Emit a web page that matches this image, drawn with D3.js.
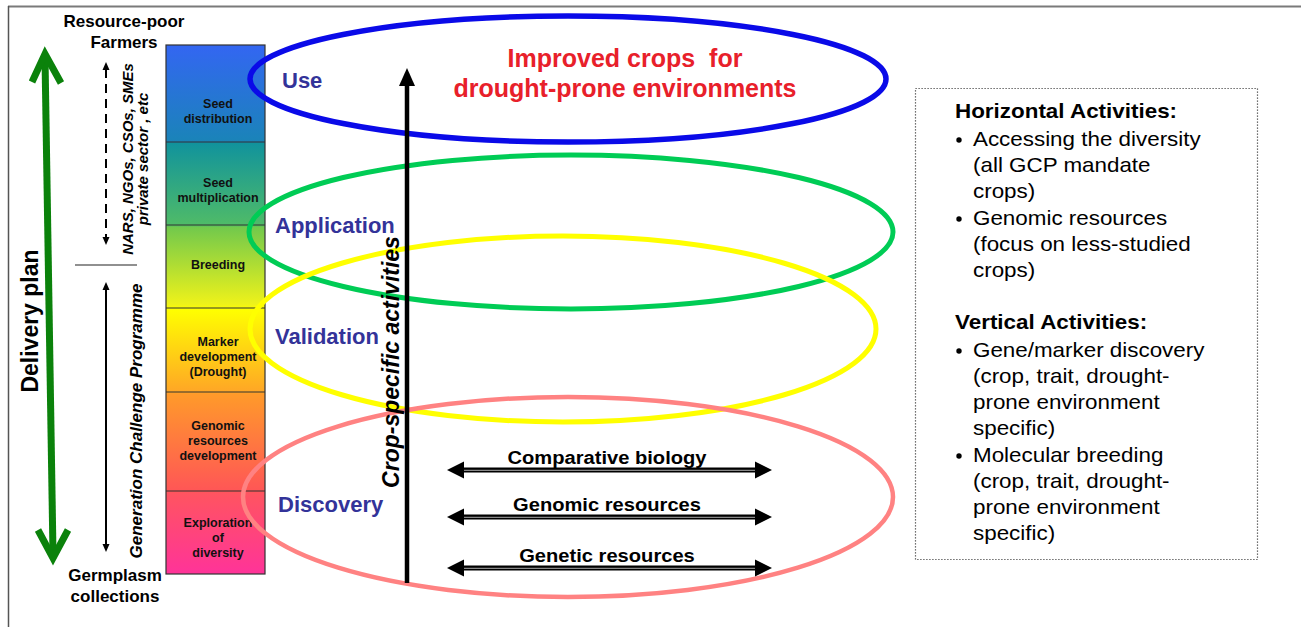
<!DOCTYPE html>
<html><head><meta charset="utf-8">
<script src="https://cdn.jsdelivr.net/npm/d3@7"></script>
<style>body{margin:0;background:#fff}svg{display:block;font-family:"Liberation Sans",Arial,Helvetica,sans-serif}text{white-space:pre}</style>
</head><body><svg id="c" width="1301" height="627"></svg>
<script>
// ---------- content ----------
const stageNames = [["Seed","distribution"],["Seed","multiplication"],["Breeding"],
  ["Marker","development","(Drought)"],["Genomic","resources","development"],["Exploration","of","diversity"]];
const stageHeights = [97, 83, 83, 84, 99, 83];          // relative extent of each stage, top to bottom
const phases = ["Use","Application","Validation","Discovery"];
const phaseColors = ["#0a0ae8","#00cc55","#ffff00","#ff8282"];
const horizontalActivities = ["Comparative biology","Genomic resources","Genetic resources"];
const titleLines = ["Improved crops  for","drought-prone environments"];
const topLabel = ["Resource-poor","Farmers"];
const bottomLabel = ["Germplasm","collections"];
const actorsLabel = ["NARS, NGOs, CSOs, SMEs","private sector , etc"];
const programmeLabel = "Generation Challenge Programme";
const deliveryLabel = "Delivery plan";
const cropLabel = "Crop-specific activities";
const boxHeads = ["Horizontal Activities:","Vertical Activities:"];
const boxItems = [
  [["Accessing the diversity","(all GCP mandate","crops)"],["Genomic resources","(focus on less-studied","crops)"]],
  [["Gene/marker discovery","(crop, trait, drought-","prone environment","specific)"],["Molecular breeding","(crop, trait, drought-","prone environment","specific)"]]
];

// ---------- layout ----------
const svg = d3.select("#c");
const defs = svg.append("defs");

// frame
svg.append("line").attr("x1",8).attr("x2",1301).attr("y1",6.5).attr("y2",6.5).attr("stroke","#7a7a7a").attr("stroke-width",2);
svg.append("line").attr("x1",8.5).attr("x2",8.5).attr("y1",6).attr("y2",627).attr("stroke","#555").attr("stroke-width",1.5);

// stage column
const cum = [0]; stageHeights.forEach(h => cum.push(cum[cum.length-1]+h));
const y = d3.scaleLinear().domain([0, cum[cum.length-1]]).range([45, 574]);
const colX0 = 166, colX1 = 265;
const grad = defs.append("linearGradient").attr("id","colg").attr("x1",0).attr("x2",0).attr("y1",0).attr("y2",1);
[[0,"#3366f2"],[0.183,"#1a84b8"],[0.186,"#11939c"],[0.34,"#4fbb68"],[0.345,"#72c94c"],[0.49,"#eef21a"],
 [0.5,"#ffff00"],[0.656,"#ffa626"],[0.66,"#ff9a2a"],[0.843,"#ff5656"],[0.847,"#ff5460"],[1,"#ff3399"]]
 .forEach(([o,c]) => grad.append("stop").attr("offset",o).attr("stop-color",c));
svg.append("rect").attr("x",colX0).attr("y",y(0)).attr("width",colX1-colX0).attr("height",y(cum[cum.length-1])-y(0))
  .attr("fill","url(#colg)").attr("stroke","#333").attr("stroke-width",1.2);
cum.slice(1,-1).forEach(v => svg.append("line").attr("x1",colX0).attr("x2",colX1).attr("y1",y(v)).attr("y2",y(v))
  .attr("stroke","#333").attr("stroke-width",1.2));
const labelShift = [18, 7, -2, 7, -1, 5];
stageNames.forEach((lines,i) => {
  const mid = (y(cum[i])+y(cum[i+1]))/2 + labelShift[i];
  const lh = 15, first = mid - (lines.length-1)*lh/2 + 4.4;
  const t = svg.append("text").attr("text-anchor","middle").attr("font-size",12.5).attr("font-weight","bold").attr("fill","#111");
  lines.forEach((l,j) => t.append("tspan").attr("x",218).attr("y",first+j*lh).text(l));
});

// ellipses
const ell = [{cx:568,cy:79,rx:318,ry:63,w:5.5},{cx:571,cy:232,rx:322,ry:77,w:5},{cx:563,cy:329,rx:313,ry:93,w:5},{cx:568,cy:497,rx:325,ry:100,w:4.5}];
ell.forEach((e,i) => svg.append("ellipse").attr("cx",e.cx).attr("cy",e.cy).attr("rx",e.rx).attr("ry",e.ry)
  .attr("fill","none").attr("stroke",phaseColors[i]).attr("stroke-width",e.w));

// green delivery arrow
const green = "#0b820b";
svg.append("path").attr("d","M45,58 L53,554").attr("stroke",green).attr("stroke-width",7).attr("fill","none");
svg.append("path").attr("d","M32,82 L45,54 L61,83").attr("stroke",green).attr("stroke-width",7).attr("fill","none").attr("stroke-linejoin","miter");
svg.append("path").attr("d","M38,530 L53,558 L68,530").attr("stroke",green).attr("stroke-width",7).attr("fill","none").attr("stroke-linejoin","miter");

// small double-headed arrows
function vArrow(x, y0, y1, dashed){
  svg.append("line").attr("x1",x).attr("x2",x).attr("y1",y0+7).attr("y2",y1-7).attr("stroke","#000").attr("stroke-width",2)
    .attr("stroke-dasharray", dashed ? "9,6" : null);
  svg.append("path").attr("d",`M${x},${y0} L${x-3.5},${y0+8} L${x+3.5},${y0+8}Z`).attr("fill","#000");
  svg.append("path").attr("d",`M${x},${y1} L${x-3.5},${y1-8} L${x+3.5},${y1-8}Z`).attr("fill","#000");
}
vArrow(106, 62, 245, true);
vArrow(106, 282, 552, false);
svg.append("line").attr("x1",75).attr("x2",137).attr("y1",265).attr("y2",265).attr("stroke","#222").attr("stroke-width",1.2);

// texts left
const tl = svg.append("text").attr("text-anchor","middle").attr("font-size",17).attr("font-weight","bold").attr("fill","#000");
topLabel.forEach((l,j) => tl.append("tspan").attr("x",124).attr("y",27+j*21).text(l));
const bl = svg.append("text").attr("text-anchor","middle").attr("font-size",17).attr("font-weight","bold").attr("fill","#000");
bottomLabel.forEach((l,j) => bl.append("tspan").attr("x",115).attr("y",581+j*21).text(l));

svg.append("text").attr("transform","translate(37.5,321) rotate(-90)").attr("text-anchor","middle")
  .attr("font-size",23).attr("font-weight","bold").text(deliveryLabel);
actorsLabel.forEach((l,j) => svg.append("text").attr("transform",`translate(${133+j*15},159) rotate(-90)`).attr("text-anchor","middle")
  .attr("font-size",15).attr("font-weight","bold").attr("font-style","italic").text(l));
svg.append("text").attr("transform","translate(142,421) rotate(-90)").attr("text-anchor","middle")
  .attr("font-size",17).attr("font-weight","bold").attr("font-style","italic").text(programmeLabel);

// crop-specific vertical arrow
svg.append("line").attr("x1",407).attr("x2",407).attr("y1",80).attr("y2",583).attr("stroke","#000").attr("stroke-width",4.5);
svg.append("path").attr("d","M407,68 L399,86 L415,86Z").attr("fill","#000");
svg.append("text").attr("transform","translate(399,362) rotate(-90)").attr("text-anchor","middle")
  .attr("font-size",23).attr("font-weight","bold").attr("font-style","italic").text(cropLabel);

// title
titleLines.forEach((l,j) => svg.append("text").attr("x",625).attr("y",67+j*30).attr("text-anchor","middle")
  .attr("xml:space","preserve").attr("font-size",25).attr("font-weight","bold").attr("fill","#e8202a").text(l));

// phase labels
const phasePos = [[282,88],[275,233],[275,344],[278,512]];
phases.forEach((p,i) => svg.append("text").attr("x",phasePos[i][0]).attr("y",phasePos[i][1])
  .attr("font-size",22).attr("font-weight","bold").attr("fill","#333399").text(p));

// horizontal activities arrows
const hy = [470, 517, 568];
const ax0 = 447, ax1 = 772;
horizontalActivities.forEach((h,i) => {
  const yy = hy[i];
  svg.append("rect").attr("x",ax0+14).attr("y",yy-2.5).attr("width",ax1-ax0-28).attr("height",5).attr("fill","#000");
  svg.append("line").attr("x1",ax0+16).attr("x2",ax1-16).attr("y1",yy+0.3).attr("y2",yy+0.3).attr("stroke","#aaa").attr("stroke-width",1);
  svg.append("path").attr("d",`M${ax0},${yy} L${ax0+17},${yy-8.5} L${ax0+17},${yy+8.5}Z`).attr("fill","#000");
  svg.append("path").attr("d",`M${ax1},${yy} L${ax1-17},${yy-8.5} L${ax1-17},${yy+8.5}Z`).attr("fill","#000");
  svg.append("text").attr("transform",`translate(607,${yy-6}) scale(1.06,1)`).attr("text-anchor","middle")
    .attr("font-size",19).attr("font-weight","bold").attr("fill","#000").text(h);
});

// right box
svg.append("rect").attr("x",915.5).attr("y",88.5).attr("width",342).attr("height",471)
  .attr("fill","none").attr("stroke","#444").attr("stroke-width",1.2).attr("stroke-dasharray","1.2,1.8");
let by = 118;
boxHeads.forEach((h,s) => {
  if (s>0) by += 52;
  svg.append("text").attr("transform",`translate(955,${by}) scale(1.15,1)`).attr("font-size",19.5).attr("font-weight","bold").text(h);
  by += 28;
  boxItems[s].forEach((item,k) => {
    if (k>0) by += 27;
    svg.append("circle").attr("cx",959).attr("cy",by-6).attr("r",2.7).attr("fill","#000");
    item.forEach((l,j) => {
      if (j>0) by += 26;
      svg.append("text").attr("transform",`translate(973,${by}) scale(1.12,1)`).attr("font-size",20).attr("fill","#000").text(l);
    });
  });
});
</script></body></html>
